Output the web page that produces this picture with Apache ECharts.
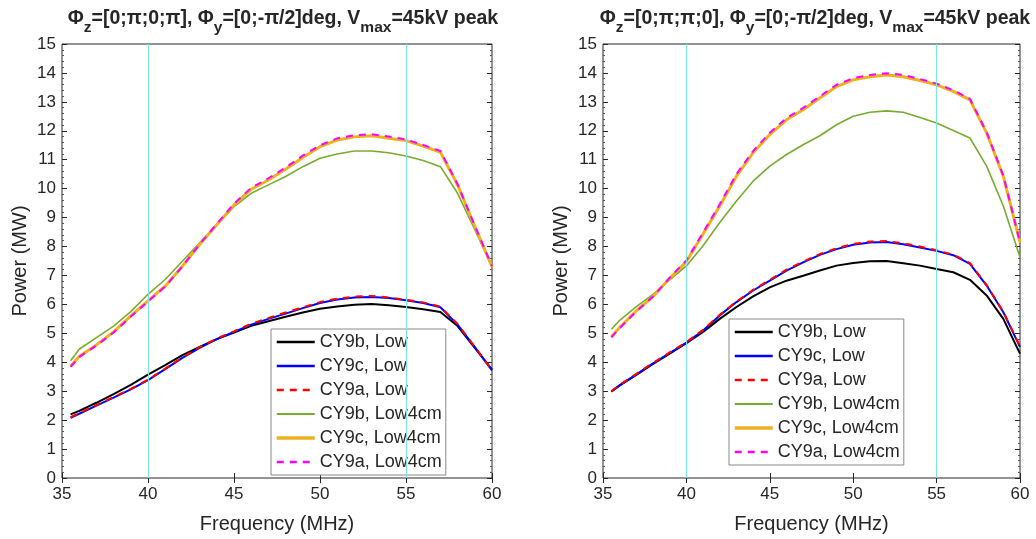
<!DOCTYPE html>
<html>
<head>
<meta charset="utf-8">
<script src="https://cdn.jsdelivr.net/npm/echarts@6/dist/echarts.min.js"></script>
<style>
html,body{margin:0;padding:0;background:#fff;}
#chart{width:1036px;height:539px;}
</style>
</head>
<body>
<div id="chart"></div>
<script>
// Frequencies (MHz)
const freq = [35.5,36,37,38,39,40,41,42,43,44,45,46,47,48,49,50,51,52,53,54,55,56,57,58,59,60];
const seriesNames = ['CY9b, Low','CY9c, Low','CY9a, Low','CY9b, Low4cm','CY9c, Low4cm','CY9a, Low4cm'];
const xTicks = [35,40,45,50,55,60];
const yTicks = [0,1,2,3,4,5,6,7,8,9,10,11,12,13,14,15];
const markFreqs = [40,55];

// Left panel: Phi_z=[0;pi;0;pi]
const L_CY9b_Low   = [2.20,2.32,2.60,2.90,3.22,3.57,3.90,4.25,4.53,4.80,5.03,5.26,5.42,5.57,5.72,5.85,5.93,5.99,6.01,5.97,5.91,5.83,5.74,5.25,4.50,3.75];
const L_CY9c_Low   = [2.08,2.22,2.50,2.78,3.06,3.38,3.76,4.15,4.50,4.80,5.05,5.30,5.50,5.68,5.87,6.05,6.17,6.24,6.26,6.22,6.14,6.05,5.90,5.30,4.52,3.72];
const L_CY9a_Low   = [2.10,2.24,2.52,2.80,3.08,3.40,3.78,4.17,4.52,4.82,5.07,5.33,5.53,5.72,5.90,6.08,6.20,6.27,6.29,6.24,6.16,6.07,5.92,5.32,4.53,3.73];
const L_CY9b_L4cm  = [4.05,4.45,4.85,5.25,5.75,6.35,6.86,7.49,8.13,8.75,9.38,9.84,10.13,10.42,10.76,11.05,11.20,11.30,11.30,11.24,11.13,10.97,10.76,9.84,8.58,7.30];
const L_CY9c_L4cm  = [3.86,4.20,4.60,5.05,5.60,6.12,6.63,7.32,8.07,8.75,9.44,9.98,10.30,10.67,11.08,11.45,11.68,11.79,11.83,11.74,11.66,11.47,11.26,10.13,8.70,7.30];
const L_CY9a_L4cm  = [3.84,4.18,4.58,5.03,5.58,6.10,6.62,7.32,8.08,8.78,9.48,10.03,10.36,10.73,11.14,11.50,11.74,11.85,11.88,11.80,11.70,11.51,11.30,10.15,8.72,7.32];

// Right panel: Phi_z=[0;pi;pi;0]
const R_CY9b_Low   = [3.00,3.20,3.56,3.94,4.30,4.66,5.05,5.50,5.91,6.28,6.59,6.82,6.99,7.17,7.34,7.43,7.49,7.50,7.42,7.34,7.22,7.11,6.85,6.31,5.50,4.30];
const R_CY9c_Low   = [2.98,3.20,3.58,3.96,4.32,4.68,5.10,5.62,6.08,6.48,6.82,7.17,7.45,7.71,7.91,8.06,8.14,8.16,8.08,7.97,7.85,7.70,7.40,6.65,5.73,4.53];
const R_CY9a_Low   = [3.00,3.22,3.60,3.98,4.34,4.70,5.12,5.64,6.10,6.50,6.85,7.20,7.48,7.74,7.94,8.09,8.17,8.19,8.11,8.00,7.87,7.72,7.43,6.67,5.75,4.55];
const R_CY9b_L4cm  = [5.14,5.45,5.92,6.35,6.85,7.33,8.03,8.83,9.57,10.26,10.78,11.18,11.52,11.83,12.21,12.50,12.64,12.69,12.64,12.46,12.27,12.01,11.75,10.78,9.40,7.63];
const R_CY9c_L4cm  = [4.88,5.20,5.78,6.27,6.90,7.48,8.43,9.40,10.43,11.24,11.87,12.38,12.73,13.13,13.53,13.76,13.87,13.93,13.87,13.74,13.59,13.36,13.07,11.93,10.43,8.14];
const R_CY9a_L4cm  = [4.86,5.18,5.76,6.27,6.92,7.52,8.48,9.46,10.50,11.30,11.93,12.44,12.79,13.19,13.59,13.82,13.93,13.99,13.93,13.79,13.63,13.40,13.10,11.95,10.45,8.15];

const leftData  = [L_CY9b_Low, L_CY9c_Low, L_CY9a_Low, L_CY9b_L4cm, L_CY9c_L4cm, L_CY9a_L4cm];
const rightData = [R_CY9b_Low, R_CY9c_Low, R_CY9a_Low, R_CY9b_L4cm, R_CY9c_L4cm, R_CY9a_L4cm];

const styles = [
  {color:'#000000', width:2,   type:'solid'},
  {color:'#0000ff', width:2,   type:'solid'},
  {color:'#ff0000', width:2,   type:[7,6]},
  {color:'#77ac30', width:1.6, type:'solid'},
  {color:'#edb120', width:3,   type:'solid'},
  {color:'#ff00ff', width:2,   type:[7,6]}
];

const FONT = 'Liberation Sans, Arial, sans-serif';
const TXT = '#262626';

const grids = [
  {left:62, top:44, width:430, height:436},
  {left:603, top:44, width:417, height:436}
];

function mainX(i){
  return {type:'value', gridIndex:i, min:35, max:60, interval:5,
    axisLine:{show:false}, splitLine:{show:false},
    axisTick:{inside:true, length:5, lineStyle:{color:TXT}},
    axisLabel:{fontFamily:FONT, fontSize:17, color:TXT, margin:8},
    name:'Frequency (MHz)', nameLocation:'middle', nameGap:36,
    nameTextStyle:{fontFamily:FONT, fontSize:20, color:TXT}};
}
function topX(i){
  return {type:'value', gridIndex:i, min:35, max:60, interval:5, position:'top',
    axisLine:{show:false}, splitLine:{show:false}, axisLabel:{show:false},
    axisTick:{inside:true, length:5, lineStyle:{color:TXT}}};
}
function mainY(i){
  return {type:'value', gridIndex:i, min:0, max:15, interval:1,
    axisLine:{show:false}, splitLine:{show:false},
    axisTick:{inside:true, length:5, lineStyle:{color:TXT}},
    minorTick:{show:true, splitNumber:5, length:2, lineStyle:{color:'#555'}},
    axisLabel:{fontFamily:FONT, fontSize:17, color:TXT, margin:6},
    name:'Power (MW)', nameLocation:'middle', nameGap:32,
    nameTextStyle:{fontFamily:FONT, fontSize:20, color:TXT}};
}
function rightY(i){
  return {type:'value', gridIndex:i, min:0, max:15, interval:1, position:'right',
    axisLine:{show:false}, splitLine:{show:false}, axisLabel:{show:false},
    axisTick:{inside:true, length:5, lineStyle:{color:TXT}},
    minorTick:{show:true, splitNumber:5, length:2, lineStyle:{color:'#555'}}};
}

const series = [];
[leftData, rightData].forEach((panel, g) => {
  panel.forEach((vals, k) => {
    const s = {
      name: seriesNames[k], type:'line', xAxisIndex:g, yAxisIndex:g,
      symbol:'none', showSymbol:false, smooth:false, animation:false,
      lineStyle:{color:styles[k].color, width:styles[k].width, type:styles[k].type},
      itemStyle:{color:styles[k].color},
      data: freq.map((f,i)=>[f, vals[i]]),
      z: 3
    };
    if (k === 0) {
      s.markLine = {silent:true, symbol:'none', label:{show:false}, animation:false,
        lineStyle:{color:'#7fe3e3', width:1.2, type:'solid'},
        data: markFreqs.map(v=>({xAxis:v}))};
    }
    series.push(s);
  });
});

const rich = {
  b:{fontFamily:FONT, fontSize:19.5, fontWeight:'bold', color:TXT, verticalAlign:'bottom', padding:[0,0,7,0]},
  s:{fontFamily:FONT, fontSize:15.5, fontWeight:'bold', color:TXT, verticalAlign:'bottom', padding:[0,0,0,0]}
};
function titleText(phiZ){
  return '{b|\u03A6}{s|z}{b|=' + phiZ + ', \u03A6}{s|y}{b|=[0;-\u03C0/2]deg, V}{s|max}{b|=45kV peak}';
}

const legendItems = seriesNames.map((n,k)=>({
  name:n,
  lineStyle:{color:styles[k].color, width:styles[k].width + 0.5, type:styles[k].type}
}));

const legendBase = {
  orient:'vertical', data:legendItems, itemWidth:38, itemHeight:14, itemGap:6,
  backgroundColor:'#fff', borderColor:'#8a8a8a', borderWidth:1, borderRadius:0,
  padding:[4,4,4,4], selectedMode:false,
  itemStyle:{opacity:0},
  textStyle:{fontFamily:FONT, fontSize:18, color:TXT}
};

const option = {
  backgroundColor:'#ffffff',
  animation:false,
  title:[
    {text:titleText('[0;\u03C0;0;\u03C0]'), left:278, top:4, textAlign:'center', textStyle:{rich}},
    {text:titleText('[0;\u03C0;\u03C0;0]'), left:810, top:4, textAlign:'center', textStyle:{rich}}
  ],
  grid: grids.map(g=>Object.assign({show:true, borderColor:TXT, borderWidth:1, backgroundColor:'#fff'}, g)),
  xAxis:[mainX(0), mainX(1), topX(0), topX(1)],
  yAxis:[mainY(0), mainY(1), rightY(0), rightY(1)],
  legend:[
    Object.assign({left:271, top:329}, legendBase),
    Object.assign({left:729, top:319}, legendBase)
  ],
  series: series
};

const chart = echarts.init(document.getElementById('chart'), null, {renderer:'canvas'});
chart.setOption(option);
</script>
</body>
</html>
